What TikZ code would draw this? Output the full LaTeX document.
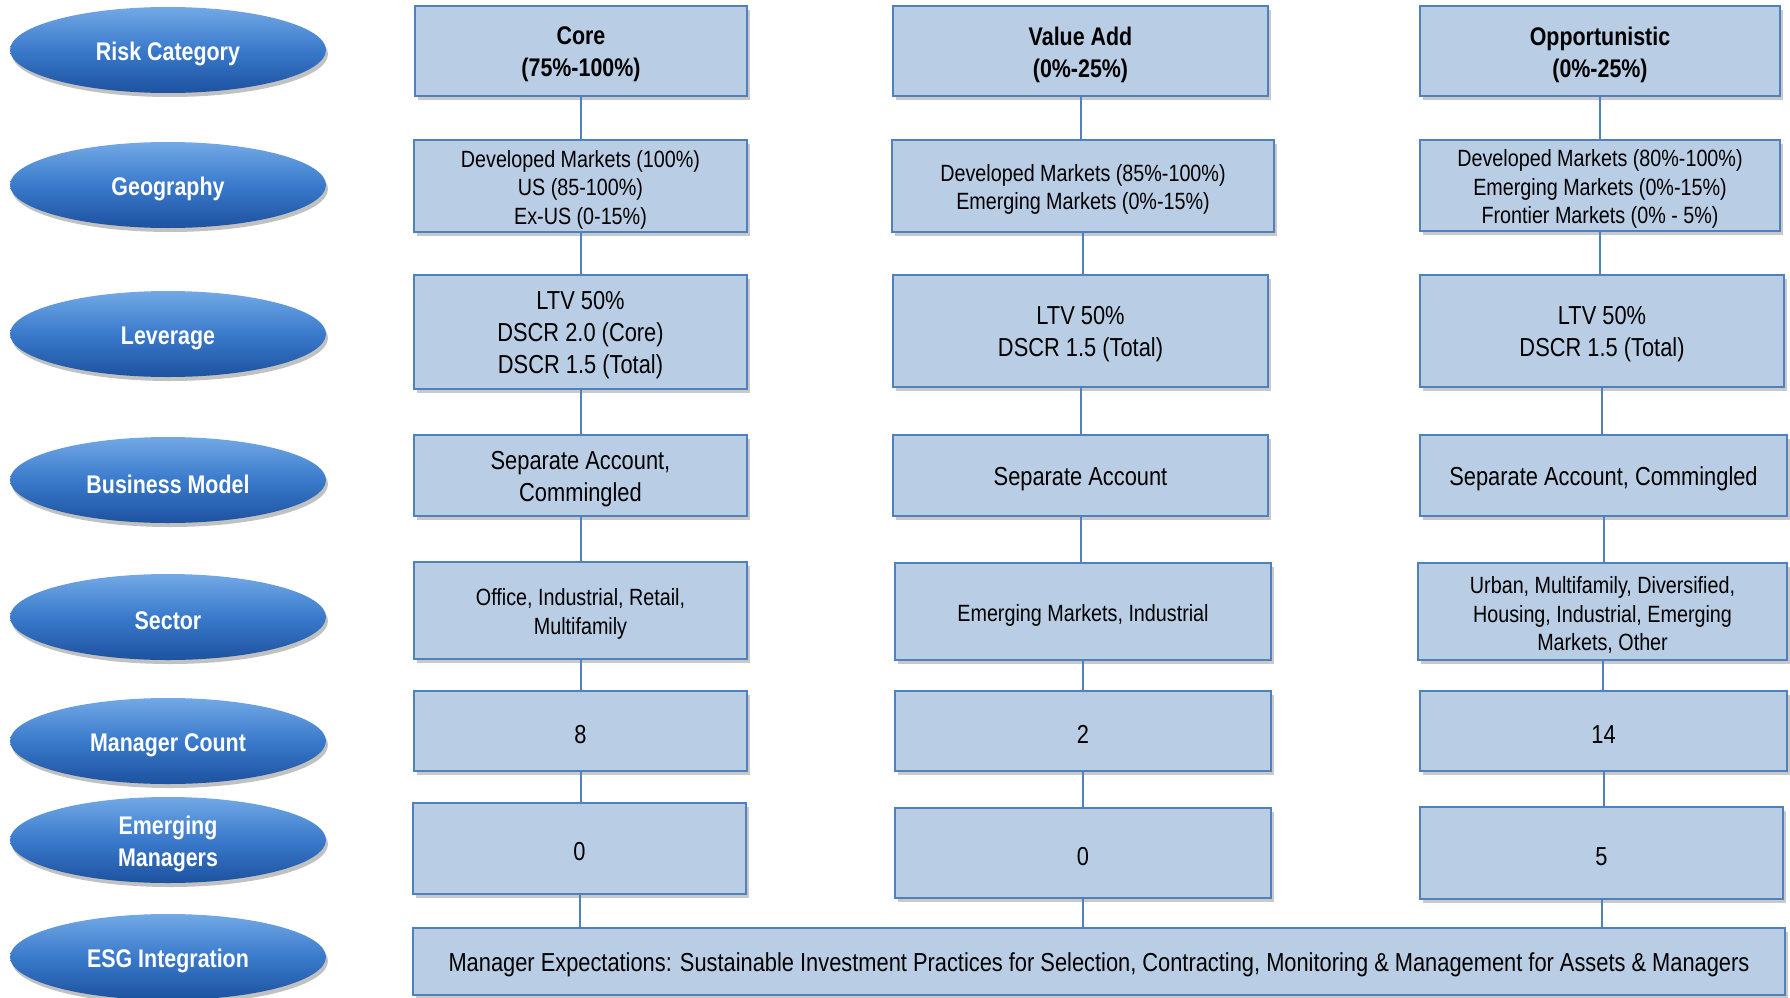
\documentclass[tikz,border=0pt]{standalone}
\usepackage{fontspec}
\setmainfont{Liberation Sans}[FakeStretch=0.84]
\usetikzlibrary{shapes.geometric,shadows,calc}
\definecolor{boxfill}{HTML}{B9CDE5}
\definecolor{boxline}{HTML}{4F81BD}
\definecolor{elltop}{HTML}{72A9E6}
\definecolor{ellmid}{HTML}{3A7ACB}
\definecolor{ellbot}{HTML}{1D52A0}
\newcommand{\hdfont}{\fontsize{25.5}{32}\selectfont\bfseries}
\newcommand{\smfont}{\fontsize{23.5}{28.5}\selectfont}
\newcommand{\lgfont}{\fontsize{26}{32}\selectfont}
\newcommand{\esgfont}{\fontsize{26}{30}\selectfont}
% box node + its text node (text set a little lower, as in the reference)
\newcommand{\bx}[7]{%
  \node[box, minimum width=#4pt, minimum height=#5pt] (#1) at (#2,#3) {};
  \node[boxtext, font=#6] (#1t) at ($(#1.center)+(0,3.5)$) {#7};}
\newcommand{\catnode}[3]{%
  \node[cat] (#1) at (168,#2) {};
  \node[cattext] (#1t) at ($(#1.center)+(0,4)$) {#3};}
\begin{document}
\begin{tikzpicture}[x=1pt,y=-1pt,
  cat/.style={ellipse, draw=none, minimum width=316pt, minimum height=86pt,
    inner sep=0pt, top color=elltop, bottom color=ellbot, middle color=ellmid,
    drop shadow={shadow xshift=2pt, shadow yshift=-4pt, opacity=0.35, fill=black!70}},
  cattext/.style={text=white, font=\hdfont, align=center, inner sep=0pt},
  box/.style={rectangle, draw=boxline, line width=2pt, fill=boxfill, inner sep=0pt,
    drop shadow={shadow xshift=3pt, shadow yshift=-4pt, opacity=0.3, fill=black!70}},
  boxtext/.style={align=center, text=black, inner sep=0pt},
  link/.style={draw=boxline, line width=2pt}]
\useasboundingbox (0,0) rectangle (1790,998);

% category ellipses
\catnode{e1}{50}{Risk Category}
\catnode{e2}{185}{Geography}
\catnode{e3}{334}{Leverage}
\catnode{e4}{480}{Business Model}
\catnode{e5}{617}{Sector}
\catnode{e6}{741}{Manager Count}
\catnode{e7}{840}{Emerging\\Managers}
\catnode{e8}{957}{ESG Integration}

% Core column
\bx{c1}{581}{51}{332}{90}{\hdfont}{Core\\(75\%-100\%)}
\bx{c2}{580.5}{186}{333}{92}{\smfont}{Developed Markets (100\%)\\US (85-100\%)\\Ex-US (0-15\%)}
\bx{c3}{580.5}{332}{333}{114}{\lgfont}{LTV 50\%\\DSCR 2.0 (Core)\\DSCR 1.5 (Total)}
\bx{c4}{580.5}{475.5}{333}{81}{\lgfont}{Separate Account,\\Commingled}
\bx{c5}{580.5}{610.5}{333}{97}{\smfont}{Office, Industrial, Retail,\\Multifamily}
\bx{c6}{580.5}{731}{333}{80}{\lgfont}{8}
\bx{c7}{579.5}{848.5}{333}{91}{\lgfont}{0}

% Value Add column
\bx{v1}{1080.5}{51}{375}{90}{\hdfont}{Value Add\\(0\%-25\%)}
\bx{v2}{1083}{186}{382}{92}{\smfont}{Developed Markets (85\%-100\%)\\Emerging Markets (0\%-15\%)}
\bx{v3}{1080.5}{331}{375}{112}{\lgfont}{LTV 50\%\\DSCR 1.5 (Total)}
\bx{v4}{1080.5}{475.5}{375}{81}{\lgfont}{Separate Account}
\bx{v5}{1083}{611.5}{376}{97}{\smfont}{Emerging Markets, Industrial}
\bx{v6}{1083}{731}{376}{80}{\lgfont}{2}
\bx{v7}{1083}{853}{376}{90}{\lgfont}{0}

% Opportunistic column
\bx{o1}{1600}{51}{360}{90}{\hdfont}{Opportunistic\\(0\%-25\%)}
\bx{o2}{1600}{185.5}{360}{91}{\smfont}{Developed Markets (80\%-100\%)\\Emerging Markets (0\%-15\%)\\Frontier Markets (0\% - 5\%)}
\bx{o3}{1602}{331}{364}{112}{\lgfont}{LTV 50\%\\DSCR 1.5 (Total)}
\bx{o4}{1603.5}{475.5}{367}{81}{\lgfont}{Separate Account, Commingled}
\bx{o5}{1602.5}{611.5}{369}{97}{\smfont}{Urban, Multifamily, Diversified,\\Housing, Industrial, Emerging\\Markets, Other}
\bx{o6}{1603.5}{731}{367}{80}{\lgfont}{14}
\bx{o7}{1601.5}{853}{363}{92}{\lgfont}{5}

% ESG box
\bx{esg}{1099}{961.5}{1372}{67}{\esgfont}{Manager Expectations: Sustainable Investment Practices for Selection, Contracting, Monitoring \& Management for Assets \& Managers}

% connectors
\foreach \col in {c,v,o}{
  \foreach \a/\b in {1/2,2/3,3/4,4/5,5/6,6/7}{
    \draw[link] (\col\a.south) -- (\col\a.south |- \col\b.north);
  }
  \draw[link] (\col7.south) -- (\col7.south |- esg.north);
}
\end{tikzpicture}
\end{document}
